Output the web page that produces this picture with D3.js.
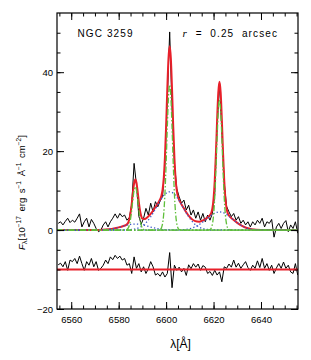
<!DOCTYPE html>
<html>
<head>
<meta charset="utf-8">
<script src="https://cdn.jsdelivr.net/npm/d3@7"></script>
<style>
html, body { margin: 0; padding: 0; background: #fff; }
svg { display: block; }
text { font-family: "Liberation Sans", Arial, sans-serif; fill: #000; }
</style>
</head>
<body>
<figure id="spectrum" style="margin:0"><svg></svg></figure>
<script>
// axis setup
const xDomain = [6554, 6655.6]
const yDomain = [-20, 55]
const xMajorTicks = [6560, 6580, 6600, 6620, 6640]
const xMinorTicks = d3.range(6555, 6656, 5)
const yMajorTicks = [-20, 0, 20, 40]
const yMinorTicks = d3.range(-15, 55, 5)

// observed spectrum, 1 A pixels starting at 6554.5
const specStart = 6554.5
const specStep = 1
const specFlux = [
	1.7, 2.1, 1.3, 2.2, 3.0, 1.9, 2.5, 2.0, 3.0, 4.1,
	0.8, 2.1, 3.0, 0.8, 2.7, 1.7, 0.4, -0.4, 0.0, 1.3,
	2.1, 0.8, 2.1, 3.0, 4.1, 3.0, 4.2, 3.4, 3.8, 2.5,
	3.2, 6.5, 16.9, 11.5, 3.5, 1.5, 3.0, 5.5, 3.8, 6.8,
	4.6, 7.2, 5.9, 7.4, 8.5, 16.5, 33.0, 50.2, 31.0, 17.0,
	10.5, 8.4, 6.8, 7.6, 5.1, 6.3, 3.8, 5.1, 3.0, 4.6,
	2.5, 4.2, 2.1, 3.8, 2.5, 4.2, 9.0, 26.0, 37.5, 25.0,
	12.0, 6.0, 4.6, 3.4, 4.2, 2.5, 3.4, 1.7, 2.5, 1.3,
	2.1, 0.8, 2.1, 1.3, 2.5, 1.7, 3.0, 0.8, 2.1, 1.7,
	2.7, -1.8, 0.8, 1.7, 0.4, 1.7, 2.4, -0.4, 1.3, 0.4,
	2.1, -0.8
]

// residuals (data - fit), drawn shifted by residOffset
const residOffset = -10
const residFlux = [
	1.2, 1.6, 0.7, 2.0, -0.2, 2.4, 2.0, 2.8, 1.5, 3.4,
	1.5, -0.2, 2.0, 1.1, 2.8, 0.7, 2.0, -0.2, 0.3, 1.1,
	2.4, 1.5, 3.2, 2.5, 3.6, 2.8, 3.4, 2.4, 2.8, 1.1,
	1.5, -1.0, 3.2, 0.3, 1.5, -0.6, 0.7, -1.0, 0.2, 2.0,
	0.7, -1.4, -1.0, -1.7, -0.6, -1.9, -1.0, 4.3, -4.6, 1.1,
	-0.2, 0.6, -0.6, 0.3, -1.5, 1.2, 0.2, 1.5, 0.6, 1.4,
	-0.2, 1.0, 0.6, -1.0, -0.5, -1.5, -0.2, -1.4, -0.6, -3.1,
	0.7, 0.3, 1.4, 0.6, 2.4, 0.6, 1.6, 0.3, 1.2, 2.0,
	0.5, -0.2, 1.1, 0.3, 2.2, 0.5, 2.8, 0.3, 1.5, -0.2,
	1.1, -1.0, 0.4, 1.5, 0.3, 1.9, 0.3, 1.1, -0.6, -1.0,
	1.5, -1.4
]

// total fit
const fitLambda = [
	6554, 6560, 6566, 6570, 6573, 6576, 6578, 6580, 6582, 6583,
	6584, 6585, 6585.5, 6586, 6586.5, 6587, 6587.5, 6588, 6588.5, 6589,
	6589.5, 6590, 6591, 6592, 6594, 6596, 6597, 6598, 6598.5, 6599,
	6599.5, 6600, 6600.5, 6601, 6601.5, 6602, 6602.5, 6603, 6603.5, 6604,
	6604.5, 6605, 6606, 6607, 6608, 6610, 6612, 6614, 6616, 6617,
	6618, 6619, 6619.5, 6620, 6620.5, 6621, 6621.5, 6622, 6622.5, 6623,
	6623.5, 6624, 6624.5, 6625, 6625.5, 6626, 6627, 6628, 6630, 6632,
	6634, 6636, 6640, 6646, 6656
]
const fitFlux = [
	0, 0, 0, 0.01, 0.06, 0.21, 0.40, 0.68, 1.03, 1.25,
	1.86, 4.28, 6.65, 9.47, 11.85, 12.83, 11.99, 9.77, 7.10, 4.90,
	3.53, 2.89, 2.79, 3.19, 4.51, 6.29, 7.27, 8.65, 10.15, 13.09,
	18.36, 26.28, 35.64, 43.47, 46.55, 43.45, 35.59, 26.22, 18.25, 12.97,
	10.0, 8.47, 7.03, 5.98, 4.96, 3.29, 2.32, 2.12, 2.59, 2.97,
	3.43, 4.29, 5.46, 7.94, 12.55, 19.54, 27.86, 34.84, 37.6, 34.84,
	27.86, 19.54, 12.55, 7.94, 5.43, 4.23, 3.32, 2.79, 1.82, 1.04,
	0.52, 0.23, 0.03, 0, 0
]

// narrow components ([NII]6548, Ha, [NII]6583)
const narrowCenters = [6587, 6601.5, 6622.5]
const narrowOffsets = [-5, -4.5, -4, -3.5, -3, -2.5, -2, -1.5, -1, -0.5, 0, 0.5, 1, 1.5, 2, 2.5, 3, 3.5, 4, 4.5, 5]
const nii6548Narrow = [0, 0.01, 0.04, 0.16, 0.48, 1.25, 2.74, 5.04, 7.78, 10.09, 11.0, 10.09, 7.78, 5.04, 2.74, 1.25, 0.48, 0.16, 0.04, 0.01, 0]
const haNarrow = [0, 0.03, 0.14, 0.52, 1.62, 4.20, 9.16, 16.85, 26.02, 33.75, 36.8, 33.75, 26.02, 16.85, 9.16, 4.20, 1.62, 0.52, 0.14, 0.03, 0]
const nii6583Narrow = [0, 0.03, 0.13, 0.47, 1.45, 3.76, 8.22, 15.11, 23.33, 30.26, 33.0, 30.26, 23.33, 15.11, 8.22, 3.76, 1.45, 0.47, 0.13, 0.03, 0]

// broad components
const broadCenters = [6587, 6601.5, 6622.5]
const broadOffsets = [-18, -16, -14, -12, -10, -8, -6, -4, -2, 0, 2, 4, 6, 8, 10, 12, 14, 16, 18]
const nii6548Broad = [0, 0.02, 0.06, 0.14, 0.29, 0.53, 0.84, 1.18, 1.43, 1.53, 1.43, 1.18, 0.84, 0.53, 0.29, 0.14, 0.06, 0.02, 0]
const haBroad = [0.05, 0.14, 0.38, 0.90, 1.85, 3.37, 5.35, 7.45, 9.08, 9.7, 9.08, 7.45, 5.35, 3.37, 1.85, 0.90, 0.38, 0.14, 0.05]
const nii6583Broad = [0.02, 0.07, 0.18, 0.43, 0.88, 1.60, 2.54, 3.53, 4.31, 4.6, 4.31, 3.53, 2.54, 1.60, 0.88, 0.43, 0.18, 0.07, 0.02]

const width = 311
const height = 360
const margin = { top: 13, right: 13, bottom: 51, left: 57 }

const $svg = d3.select('#spectrum svg').attr('width', width).attr('height', height)
const scaleX = d3.scaleLinear().domain(xDomain).range([margin.left, width - margin.right])
const scaleY = d3.scaleLinear().domain(yDomain).range([height - margin.bottom, margin.top])

const colors = { fit: '#e8202a', narrow: '#5fbf3a', broad: '#3a55c8' }

function componentPoints(center, offsets, values) {
	// pad with the baseline so every component runs along zero
	const pts = offsets.map((o, i) => [center + o, values[i]])
	return [[xDomain[0], 0], ...pts, [xDomain[1], 0]]
}

function drawAxes() {
	const $axes = $svg.append('g').attr('class', 'g-axes')
	const x0 = margin.left
	const x1 = width - margin.right
	const y0 = height - margin.bottom
	const y1 = margin.top

	const axes = [
		[d3.axisBottom(scaleX).tickValues(xMinorTicks).tickSize(-3.5).tickFormat(''), `translate(0,${y0})`],
		[d3.axisBottom(scaleX).tickValues(xMajorTicks).tickSize(-7).tickPadding(7).tickFormat(d3.format('d')), `translate(0,${y0})`],
		[d3.axisTop(scaleX).tickValues(xMinorTicks).tickSize(-3.5).tickFormat(''), `translate(0,${y1})`],
		[d3.axisTop(scaleX).tickValues(xMajorTicks).tickSize(-7).tickFormat(''), `translate(0,${y1})`],
		[d3.axisLeft(scaleY).tickValues(yMinorTicks).tickSize(-3.5).tickFormat(''), `translate(${x0},0)`],
		[d3.axisLeft(scaleY).tickValues(yMajorTicks).tickSize(-7).tickPadding(4).tickFormat(d3.format('d')), `translate(${x0},0)`],
		[d3.axisRight(scaleY).tickValues(yMinorTicks).tickSize(-3.5).tickFormat(''), `translate(${x1},0)`],
		[d3.axisRight(scaleY).tickValues(yMajorTicks).tickSize(-7).tickFormat(''), `translate(${x1},0)`]
	]

	axes.forEach(([axis, t]) => {
		const $g = $axes.append('g').attr('transform', t).call(axis)
		$g.select('.domain').remove()
		$g.selectAll('line').attr('stroke', '#000').attr('stroke-width', 1)
		$g.selectAll('text')
			.attr('font-family', '"Liberation Sans", Arial, sans-serif')
			.attr('font-size', 9.5)
			.attr('fill', '#000')
	})

	$axes.append('rect')
		.attr('x', x0)
		.attr('y', y1)
		.attr('width', x1 - x0)
		.attr('height', y0 - y1)
		.attr('fill', 'none')
		.attr('stroke', '#000')
		.attr('stroke-width', 1.2)
}

function drawLines() {
	$svg.append('clipPath').attr('id', 'plot-clip')
		.append('rect')
		.attr('x', margin.left)
		.attr('y', margin.top)
		.attr('width', width - margin.left - margin.right)
		.attr('height', height - margin.top - margin.bottom)

	const $gViz = $svg.append('g').attr('class', 'g-viz').attr('clip-path', 'url(#plot-clip)')

	const line = d3.line()
		.x(d => scaleX(d[0]))
		.y(d => scaleY(d[1]))
	const smooth = d3.line()
		.x(d => scaleX(d[0]))
		.y(d => scaleY(d[1]))
		.curve(d3.curveMonotoneX)

	const spectrum = specFlux.map((f, i) => [specStart + i * specStep, f])
	const resid = residFlux.map((f, i) => [specStart + i * specStep, f + residOffset])
	const fit = fitLambda.map((l, i) => [l, fitFlux[i]])

	$gViz.append('path').datum(spectrum)
		.attr('d', line).attr('fill', 'none').attr('stroke', '#000').attr('stroke-width', 1)

	$gViz.append('path').datum(resid)
		.attr('d', line).attr('fill', 'none').attr('stroke', '#000').attr('stroke-width', 1)

	$gViz.append('path').datum(fit)
		.attr('d', smooth).attr('fill', 'none').attr('stroke', colors.fit).attr('stroke-width', 2)

	$gViz.append('path').datum([[xDomain[0], residOffset], [xDomain[1], residOffset]])
		.attr('d', line).attr('fill', 'none').attr('stroke', colors.fit).attr('stroke-width', 2)

	const broad = [nii6548Broad, haBroad, nii6583Broad]
	broad.forEach((vals, i) => {
		$gViz.append('path').datum(componentPoints(broadCenters[i], broadOffsets, vals))
			.attr('d', smooth).attr('fill', 'none')
			.attr('stroke', colors.broad).attr('stroke-width', 1.3)
			.attr('stroke-dasharray', '1.3,2.2')
	})

	const narrow = [nii6548Narrow, haNarrow, nii6583Narrow]
	narrow.forEach((vals, i) => {
		$gViz.append('path').datum(componentPoints(narrowCenters[i], narrowOffsets, vals))
			.attr('d', smooth).attr('fill', 'none')
			.attr('stroke', colors.narrow).attr('stroke-width', 1.3)
			.attr('stroke-dasharray', '6,2,1.5,2')
	})
}

function drawLabels() {
	$svg.append('text')
		.attr('x', 77.5).attr('y', 37.3)
		.attr('font-size', 10).attr('letter-spacing', 1.1)
		.text('NGC 3259')

	const $r = $svg.append('text')
		.attr('x', 182.5).attr('y', 37.3)
		.attr('font-size', 10).attr('letter-spacing', 1.1)
		.attr('xml:space', 'preserve')
	$r.append('tspan')
		.attr('font-family', '"Liberation Serif", serif')
		.attr('font-style', 'italic').attr('font-size', 11)
		.text('r')
	$r.append('tspan').text('  =  0.25  arcsec')

	const $xl = $svg.append('text')
		.attr('x', 180.5).attr('y', 348)
		.attr('text-anchor', 'middle')
		.attr('font-family', '"Liberation Serif", serif')
		.attr('font-size', 12)
	$xl.append('tspan').text('λ[Å]')

	const $yl = $svg.append('text')
		.attr('transform', 'translate(25,250) rotate(-90)')
		.attr('font-size', 9.5)
		.attr('word-spacing', 2)
	$yl.append('tspan').attr('font-style', 'italic').text('F')
	$yl.append('tspan').attr('font-size', 7.5).attr('dy', 1.5).text('λ')
	$yl.append('tspan').attr('dy', -1.5).text('[10')
	$yl.append('tspan').attr('font-size', 6.5).attr('dy', -4).text('−17')
	$yl.append('tspan').attr('dy', 4).text(' erg s')
	$yl.append('tspan').attr('font-size', 6.5).attr('dy', -4).text('−1')
	$yl.append('tspan').attr('dy', 4).text(' Å')
	$yl.append('tspan').attr('font-size', 6.5).attr('dy', -4).text('−1')
	$yl.append('tspan').attr('dy', 4).text(' cm')
	$yl.append('tspan').attr('font-size', 6.5).attr('dy', -4).text('−2')
	$yl.append('tspan').attr('dy', 4).text(']')
}

function init() {
	drawLines()
	drawAxes()
	drawLabels()
}

init()
</script>
</body>
</html>
